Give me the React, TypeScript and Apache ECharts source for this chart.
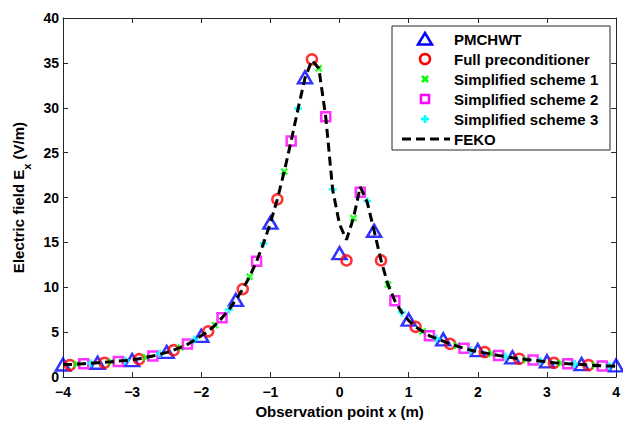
import React, { useEffect, useRef } from "react";
import * as echarts from "echarts";

const pmchwtX = [-4, -3.5, -3, -2.5, -2, -1.5, -1, -0.5, 0, 0.5, 1, 1.5, 2, 2.5, 3, 3.5, 4];
const pmchwtY = [1.4, 1.6, 1.9, 2.8, 4.6, 8.6, 17.2, 33.4, 13.8, 16.3, 6.4, 4.2, 3.0, 2.2, 1.75, 1.45, 1.3];

const fullX = [-3.9, -3.4, -2.9, -2.4, -1.9, -1.4, -0.9, -0.4, 0.1, 0.6, 1.1, 1.6, 2.1, 2.6, 3.1, 3.6];
const fullY = [1.35, 1.6, 2.0, 3.0, 5.1, 9.8, 19.8, 35.4, 13.0, 13.0, 5.6, 3.7, 2.8, 2.05, 1.6, 1.35];

const s1X = [-3.8, -3.3, -2.8, -2.3, -1.8, -1.3, -0.8, -0.3, 0.2, 0.7, 1.2, 1.7, 2.2, 2.7, 3.2, 3.7];
const s1Y = [1.45, 1.7, 2.2, 3.3, 5.8, 11.2, 22.9, 34.4, 17.7, 10.3, 5.1, 3.5, 2.6, 1.95, 1.55, 1.3];

const s2X = [-3.7, -3.2, -2.7, -2.2, -1.7, -1.2, -0.7, -0.2, 0.3, 0.8, 1.3, 1.8, 2.3, 2.8, 3.3, 3.8];
const s2Y = [1.5, 1.75, 2.35, 3.7, 6.6, 12.9, 26.3, 29.0, 20.6, 8.5, 4.6, 3.2, 2.4, 1.9, 1.5, 1.25];

const s3X = [-3.6, -3.1, -2.6, -2.1, -1.6, -1.1, -0.6, -0.1, 0.4, 0.9, 1.4, 1.9, 2.4, 2.9, 3.4, 3.9];
const s3Y = [1.55, 1.85, 2.6, 4.2, 7.5, 14.9, 29.9, 20.9, 19.6, 7.2, 4.3, 3.0, 2.3, 1.8, 1.45, 1.25];

const fekoX = [
  -4.0, -3.9, -3.8, -3.7, -3.6, -3.5, -3.4, -3.3, -3.2, -3.1, -3.0, -2.9, -2.8, -2.7, -2.6, -2.5,
  -2.4, -2.3, -2.2, -2.1, -2.0, -1.9, -1.8, -1.7, -1.6, -1.5, -1.4, -1.3, -1.2, -1.1, -1.0, -0.9,
  -0.8, -0.7, -0.6, -0.5, -0.4, -0.3, -0.2, -0.1, 0.0, 0.1, 0.2, 0.3, 0.4, 0.5, 0.6, 0.7, 0.8,
  0.9, 1.0, 1.1, 1.2, 1.3, 1.4, 1.5, 1.6, 1.7, 1.8, 1.9, 2.0, 2.1, 2.2, 2.3, 2.4, 2.5, 2.6, 2.7,
  2.8, 2.9, 3.0, 3.1, 3.2, 3.3, 3.4, 3.5, 3.6, 3.7, 3.8, 3.9, 4.0,
];
const fekoY = [
  1.4, 1.4, 1.45, 1.5, 1.55, 1.6, 1.65, 1.7, 1.8, 1.85, 1.95, 2.05, 2.2, 2.35, 2.55, 2.75,
  3.0, 3.3, 3.65, 4.1, 4.6, 5.1, 5.8, 6.6, 7.5, 8.6, 9.8, 11.2, 12.9, 14.9, 17.2, 19.8,
  22.9, 26.3, 29.9, 33.3, 35.3, 34.4, 29.0, 20.9, 17.0, 15.3, 17.7, 21.2, 19.5, 16.3, 13.0, 10.3, 8.5,
  7.2, 6.3, 5.6, 5.1, 4.6, 4.3, 4.0, 3.7, 3.45, 3.2, 3.0, 2.85, 2.7, 2.55, 2.4, 2.3, 2.15, 2.05, 1.95,
  1.9, 1.8, 1.7, 1.6, 1.55, 1.5, 1.45, 1.4, 1.35, 1.3, 1.25, 1.25, 1.2,
];

const seriesNames = [
  "PMCHWT",
  "Full preconditioner",
  "Simplified scheme 1",
  "Simplified scheme 2",
  "Simplified scheme 3",
  "FEKO",
];

const FONT = "'Liberation Sans', Arial, Helvetica, sans-serif";
const AXIS_COLOR = "#262626";

const zip = (xs: number[], ys: number[]) => xs.map((x, i) => [x, ys[i]]);
const minus = (v: number) => String(v).replace("-", "\u2212");

export default function App() {
  const ref = useRef<HTMLDivElement>(null);

  useEffect(() => {
    if (!ref.current) return;
    const chart = echarts.init(ref.current, null, { renderer: "svg" });

    const scatterBase = (name: string, data: number[][], symbol: string, size: any, color: string, bw: number) => ({
      name,
      type: "scatter",
      data,
      symbol,
      symbolSize: size,
      xAxisIndex: 0,
      yAxisIndex: 0,
      itemStyle: { color: "rgba(0,0,0,0)", borderColor: color, borderWidth: bw },
      emphasis: { disabled: true },
      silent: true,
    });

    const lx = 392, ly = 26, lw = 218, lh = 124;
    const iconX = 425;
    const rows = [39, 59, 79, 99, 119, 139];
    const textX = 454;
    const gz = 100;

    const graphic: any[] = [
      { type: "rect", z: gz, shape: { x: lx, y: ly, width: lw, height: lh }, style: { fill: "#fff", stroke: AXIS_COLOR, lineWidth: 1 } },
      {
        type: "polygon", z: gz + 1,
        shape: { points: [[iconX - 7, rows[0] + 5.5], [iconX + 7, rows[0] + 5.5], [iconX, rows[0] - 6]] },
        style: { fill: "none", stroke: "#0000ff", lineWidth: 2.5 },
      },
      { type: "circle", z: gz + 1, shape: { cx: iconX, cy: rows[1], r: 5 }, style: { fill: "none", stroke: "#ff0000", lineWidth: 2.5 } },
      { type: "line", z: gz + 1, shape: { x1: iconX - 3, y1: rows[2] - 3, x2: iconX + 3, y2: rows[2] + 3 }, style: { stroke: "#00ff00", lineWidth: 2.5 } },
      { type: "line", z: gz + 1, shape: { x1: iconX + 3, y1: rows[2] - 3, x2: iconX - 3, y2: rows[2] + 3 }, style: { stroke: "#00ff00", lineWidth: 2.5 } },
      { type: "rect", z: gz + 1, shape: { x: iconX - 4, y: rows[3] - 4, width: 8, height: 8 }, style: { fill: "none", stroke: "#ff00ff", lineWidth: 2.5 } },
      { type: "line", z: gz + 1, shape: { x1: iconX, y1: rows[4] - 4, x2: iconX, y2: rows[4] + 4 }, style: { stroke: "#00ffff", lineWidth: 2.8 } },
      { type: "line", z: gz + 1, shape: { x1: iconX - 4, y1: rows[4], x2: iconX + 4, y2: rows[4] }, style: { stroke: "#00ffff", lineWidth: 2.8 } },
      { type: "line", z: gz + 1, shape: { x1: 402, y1: rows[5], x2: 450, y2: rows[5] }, style: { stroke: "#000", lineWidth: 3, lineDash: [9, 5] } },
      ...seriesNames.map((n, i) => ({
        type: "text",
        z: gz + 1,
        style: { text: n, x: textX, y: rows[i], verticalAlign: "middle", textVerticalAlign: "middle", font: `bold 15px ${FONT}`, fill: "#000" },
      })),
    ];

    const axisCommon = {
      type: "value",
      axisLine: { show: true, onZero: false, lineStyle: { color: AXIS_COLOR, width: 1 } },
      axisTick: { show: true, inside: true, length: 5, lineStyle: { color: AXIS_COLOR, width: 1 } },
      splitLine: { show: false },
    };

    chart.setOption({
      animation: false,
      backgroundColor: "#fff",
      grid: { left: 63, right: 6, top: 18, bottom: 41, containLabel: false },
      xAxis: [
        {
          ...axisCommon,
          position: "bottom",
          min: -4,
          max: 4,
          interval: 1,
          axisLabel: { color: "#000", fontSize: 14, fontWeight: "bold", fontFamily: FONT, margin: 8, formatter: (v: number) => minus(v) },
          name: "Observation point x (m)",
          nameLocation: "middle",
          nameGap: 24,
          nameTextStyle: { color: "#000", fontSize: 15, fontWeight: "bold", fontFamily: FONT },
        },
        {
          ...axisCommon,
          position: "top",
          min: -4,
          max: 4,
          interval: 1,
          axisLabel: { show: false },
        },
      ],
      yAxis: [
        {
          ...axisCommon,
          position: "left",
          min: 0,
          max: 40,
          interval: 5,
          axisLabel: { color: "#000", fontSize: 14, fontWeight: "bold", fontFamily: FONT, margin: 4 },
          name: "{a|Electric field E}{b|x}{a| (V/m)}",
          nameLocation: "middle",
          nameGap: 27,
          nameTextStyle: {
            color: "#000",
            fontSize: 15,
            fontWeight: "bold",
            fontFamily: FONT,
            rich: {
              a: { color: "#000", fontSize: 15, fontWeight: "bold", fontFamily: FONT, lineHeight: 17, verticalAlign: "top" },
              b: { color: "#000", fontSize: 11, fontWeight: "bold", fontFamily: FONT, lineHeight: 11, padding: [11, 0, 0, 0], verticalAlign: "top" },
            },
          },
        },
        {
          ...axisCommon,
          position: "right",
          min: 0,
          max: 40,
          interval: 5,
          axisLabel: { show: false },
        },
      ],
      series: [
        scatterBase(seriesNames[0], zip(pmchwtX, pmchwtY), "triangle", [14, 12], "#0000ff", 2.5),
        scatterBase(seriesNames[1], zip(fullX, fullY), "circle", 10, "#ff0000", 2.5),
        scatterBase(seriesNames[2], zip(s1X, s1Y), "path://M0,0L10,10M10,0L0,10", 6, "#00ff00", 2.5),
        scatterBase(seriesNames[3], zip(s2X, s2Y), "rect", 9, "#ff00ff", 2.5),
        scatterBase(seriesNames[4], zip(s3X, s3Y), "path://M5,0L5,10M0,5L10,5", 8, "#00ffff", 2.8),
        {
          name: seriesNames[5],
          type: "line",
          data: zip(fekoX, fekoY),
          xAxisIndex: 0,
          yAxisIndex: 0,
          symbol: "none",
          smooth: false,
          lineStyle: { color: "#000", width: 3, type: [9, 5] },
          emphasis: { disabled: true },
          silent: true,
          z: 5,
        },
      ],
      graphic,
    });

    return () => chart.dispose();
  }, []);

  return <div ref={ref} style={{ position: "absolute", left: 0, top: 0, width: 623, height: 424 }} />;
}
